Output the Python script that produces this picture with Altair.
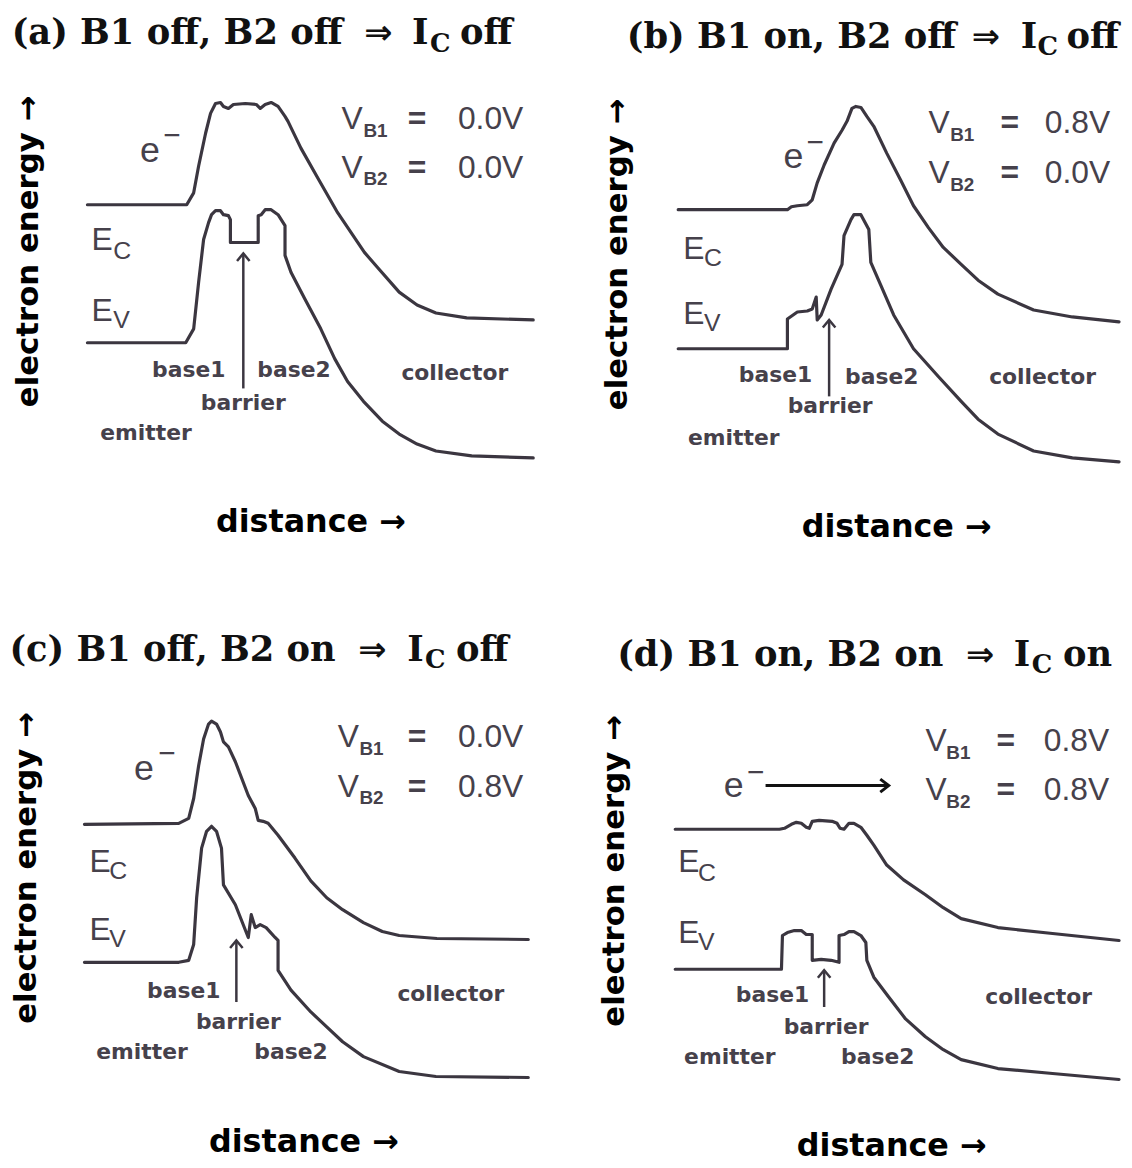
import altair as alt
import pandas as pd

# ---------------- band-edge curves ----------------
# d = distance from the emitter edge, e = electron energy above the emitter valence band
A_EC_D = [0, 92, 100, 107, 112, 119, 124, 129, 134, 137, 142, 147, 159, 170, 174, 179, 185, 192, 199, 202,
          215, 232, 252, 279, 292, 314, 332, 351, 382, 449]
A_EC_E = [139, 139, 139, 151, 178, 211, 231, 241, 242, 238, 236, 240, 241, 240, 236, 240, 242, 238, 228, 223,
          196, 166, 131, 91, 76, 51, 38, 30, 25, 23]
A_EV_D = [0, 99, 107, 112, 117, 122, 125, 129, 134, 137, 142, 144, 144, 172, 172, 175, 179, 185, 192, 199,
          199, 205, 219, 235, 249, 262, 278, 297, 314, 332, 351, 387, 449]
A_EV_E = [0, 0, 14, 61, 104, 121, 129, 133, 133, 129, 128, 124, 101, 101, 128, 129, 134, 134, 129, 118,
          88, 71, 44, 14, -16, -39, -59, -79, -92, -102, -109, -114, -116]

B_EC_D = [0, 110, 114, 120, 130, 135, 140, 147, 157, 165, 170, 175, 179, 184, 190, 197, 210, 224, 237, 252,
          267, 285, 302, 322, 358, 397, 444]
B_EC_E = [140, 140, 143, 144, 145, 150, 167, 185, 207, 220, 229, 242, 244, 243, 234, 224, 197, 170, 144, 122,
          102, 85, 69, 55, 39, 32, 27]
B_EV_D = [0, 110, 110, 120, 130, 135, 139, 140, 144, 154, 165, 167, 174, 177, 184, 192, 194, 204, 217, 237,
          262, 285, 302, 322, 358, 397, 444]
B_EV_E = [0, 0, 30, 37, 38, 40, 52, 29, 34, 60, 85, 114, 130, 135, 135, 120, 87, 64, 34, 0,
          -28, -53, -71, -86, -103, -110, -114]

C_EC_D = [0, 95, 105, 110, 115, 120, 125, 128, 133, 137, 140, 145, 152, 165, 172, 175, 180, 185, 195, 212,
          228, 244, 260, 281, 300, 317, 355, 447]
C_EC_E = [139, 140, 145, 165, 198, 225, 240, 243, 240, 232, 222, 217, 202, 168, 155, 143, 142, 140, 128, 105,
          82, 65, 53, 40, 31, 27, 24, 23]
C_EV_D = [0, 95, 105, 110, 113, 118, 123, 128, 133, 138, 140, 152, 165, 168, 172, 177, 183, 192, 195, 195,
          208, 228, 244, 260, 281, 317, 354, 447]
C_EV_E = [0, 0, 2, 18, 65, 115, 132, 137, 132, 115, 78, 58, 25, 48, 35, 38, 35, 25, 22, -8,
          -28, -50, -65, -80, -95, -110, -115, -116]

D_EC_D = [0, 105, 110, 117, 122, 127, 132, 135, 138, 145, 158, 163, 166, 170, 175, 180, 187, 193, 200, 213,
          230, 252, 270, 288, 325, 380, 447]
D_EC_E = [141, 141, 142, 146, 148, 147, 143, 142, 149, 150, 149, 147, 142, 141, 147, 147, 143, 135, 125, 105,
          90, 75, 62, 51, 42, 36, 29]
D_EV_D = [0, 107, 108, 113, 120, 127, 132, 138, 138, 147, 157, 165, 165, 170, 175, 180, 187, 192, 193, 200,
          215, 232, 252, 270, 288, 325, 380, 447]
D_EV_E = [0, 0, 34, 37, 39, 39, 35, 35, 9, 10, 9, 7, 34, 35, 38, 38, 34, 27, 9, -8,
          -28, -50, -68, -81, -91, -100, -105, -111]

PANEL_KEYS = ["a", "b", "c", "d"]
TITLE_HEAD = ["(a) B1 off, B2 off", "(b) B1 on, B2 off", "(c) B1 off, B2 on", "(d) B1 on, B2 on"]
TITLE_ARROW = "\u21d2"
TITLE_I = "I"
TITLE_SUB = "C"
TITLE_TAIL = ["off", "off", "off", "on"]
VB1_VALUES = ["0.0V", "0.8V", "0.0V", "0.8V"]
VB2_VALUES = ["0.0V", "0.0V", "0.8V", "0.8V"]
REGION_NAMES = ["base1", "base2", "collector", "barrier", "emitter"]
Y_LABEL = "electron  energy  \u2192"
X_LABEL = "distance   \u2192"

CURVES = {
    "a": (A_EC_D, A_EC_E, A_EV_D, A_EV_E),
    "b": (B_EC_D, B_EC_E, B_EV_D, B_EV_E),
    "c": (C_EC_D, C_EC_E, C_EV_D, C_EV_E),
    "d": (D_EC_D, D_EC_E, D_EV_D, D_EV_E),
}

# ---------------- layout: panel frames and annotation anchors (data units) ----------------
PANEL_W = 562
PANEL_H = 580
LAYOUT = {
    "a": dict(x_lo=-80, y_hi=333,
              title=(257, 293, 327, 345, 428, 301, 293), ytitle=(-59, 92), xtitle=(225, -181),
              e_lab=(63, 193), minus=(85, 208),
              v=(256, 278, 332, 439, 225, 213, 176, 165),
              ec=(4, 103, 26, 92), ev=(4, 32, 26, 23),
              regions=[(102, -27), (208, -27), (370, -31), (157, -61), (59, -91)],
              arrow=(157, -46, 90), flow=None),
    "b": dict(x_lo=-113, y_hi=339,
              title=(280, 310, 345, 362, 444, 303, 296), ytitle=(-61, 95), xtitle=(220, -180),
              e_lab=(116, 193), minus=(138, 207),
              v=(252, 274, 334, 435, 227, 215, 177, 165),
              ec=(5, 100, 26, 91), ev=(5, 35, 26, 26),
              regions=[(98, -27), (205, -29), (367, -29), (153, -58), (56, -90)],
              arrow=(152, -48, 29), flow=None),
    "c": dict(x_lo=-77, y_hi=377,
              title=(253, 290, 325, 343, 427, 303, 296), ytitle=(-58, 95), xtitle=(221, -181),
              e_lab=(60, 195), minus=(83, 210),
              v=(255, 277, 335, 442, 227, 215, 177, 165),
              ec=(5, 101, 25, 92), ev=(5, 32, 25, 23),
              regions=[(100, -29), (208, -90), (369, -32), (155, -60), (58, -90)],
              arrow=(153, -40, 22), flow=None),
    "d": dict(x_lo=-110, y_hi=384,
              title=(270, 307, 341, 359, 440, 305, 298), ytitle=(-61, 99), xtitle=(218, -178),
              e_lab=(59, 184), minus=(81, 198),
              v=(252, 273, 333, 437, 230, 218, 180, 168),
              ec=(3, 108, 23, 97), ev=(3, 36, 23, 27),
              regions=[(98, -26), (204, -88), (366, -28), (152, -58), (55, -88)],
              arrow=(150, -38, -1), flow=(91, 215, 185)),
}

SERIF = "DejaVu Serif"
HELV = "Liberation Sans"
ROUND = "DejaVu Sans"
INK = "#3b3640"
LABEL = "#46414b"
UP_HEAD = "M-1,1.2L0,0L1,1.2"
RIGHT_HEAD = "M-1.3,-1L0,0L-1.3,1"


def panel(i, k):
    L = LAYOUT[k]
    xs = alt.Scale(domain=[L["x_lo"], L["x_lo"] + PANEL_W], nice=False, zero=False)
    ys = alt.Scale(domain=[L["y_hi"] - PANEL_H, L["y_hi"]], nice=False, zero=False)

    def X(f="d"):
        return alt.X(f + ":Q", scale=xs, axis=None)

    def Y(f="e"):
        return alt.Y(f + ":Q", scale=ys, axis=None)

    def txt(rows, **style):
        df = pd.DataFrame(rows, columns=["t", "d", "e"])
        return alt.Chart(df).mark_text(**style).encode(x=X(), y=Y(), text="t:N")

    layers = []
    ec_d, ec_e, ev_d, ev_e = CURVES[k]
    cdf = pd.DataFrame({
        "d": ec_d + ev_d,
        "e": ec_e + ev_e,
        "band": ["Ec"] * len(ec_d) + ["Ev"] * len(ev_d),
        "i": list(range(len(ec_d))) + list(range(len(ev_d))),
    })
    layers.append(alt.Chart(cdf).mark_line(color=INK, strokeWidth=3.2, strokeJoin="round",
                                           strokeCap="round").encode(
        x=X(), y=Y(), detail="band:N", order="i:Q"))

    # barrier arrow
    ad, ab, at = L["arrow"]
    adf = pd.DataFrame({"d": [ad], "e": [ab], "e2": [at]})
    layers.append(alt.Chart(adf).mark_rule(color=INK, strokeWidth=2.5).encode(
        x=X(), y=Y(), y2=alt.Y2("e2:Q")))
    layers.append(alt.Chart(adf).mark_point(shape=UP_HEAD, size=160, filled=False, color=INK,
                                            strokeWidth=2.5, opacity=1).encode(x=X(), y=Y("e2")))

    # electron flow arrow (panel d)
    if L["flow"] is not None:
        f0, f1, fe = L["flow"]
        fdf = pd.DataFrame({"d": [f0], "d2": [f1], "e": [fe]})
        layers.append(alt.Chart(fdf).mark_rule(color="#111111", strokeWidth=3).encode(
            x=X(), x2=alt.X2("d2:Q"), y=Y()))
        layers.append(alt.Chart(fdf).mark_point(shape=RIGHT_HEAD, size=170, filled=False,
                                                color="#111111", strokeWidth=3, opacity=1).encode(
            x=X("d2"), y=Y()))

    # title pieces
    hr, ac, il, cl, tr, tb, tsb = L["title"]
    title_style = dict(font=SERIF, fontWeight="bold", color="#111111", baseline="alphabetic")
    layers.append(txt([(TITLE_HEAD[i], hr, tb)], align="right", fontSize=35.5, **title_style))
    layers.append(txt([(TITLE_ARROW, ac, tb)], align="center", baseline="alphabetic",
                      font=ROUND, fontWeight="bold", fontSize=34, color="#111111"))
    layers.append(txt([(TITLE_I, il, tb)], align="left", fontSize=35.5, **title_style))
    layers.append(txt([(TITLE_SUB, cl, tsb)], align="left", fontSize=26, **title_style))
    layers.append(txt([(TITLE_TAIL[i], tr, tb)], align="right", fontSize=35.5, **title_style))

    # axis titles
    axis_style = dict(font=ROUND, fontWeight="bold", color="#000000", align="center",
                      baseline="middle")
    layers.append(txt([(Y_LABEL, *L["ytitle"])], angle=270, fontSize=31, **axis_style))
    layers.append(txt([(X_LABEL, *L["xtitle"])], fontSize=32, **axis_style))

    # e- label
    layers.append(txt([("e", *L["e_lab"])], font=HELV, fontSize=36, color=LABEL,
                      align="center", baseline="middle"))
    layers.append(txt([("\u2212", *L["minus"])], font=HELV, fontSize=30, color=LABEL,
                      align="center", baseline="middle"))

    # bias voltages
    vl, bl, eqc, valr, e1, s1, e2, s2 = L["v"]
    helv = dict(font=HELV, fontSize=32, color=LABEL, baseline="middle")
    layers.append(txt([("V", vl, e1), ("V", vl, e2)], align="left", **helv))
    layers.append(txt([("B1", bl, s1), ("B2", bl, s2)], align="left", font=HELV, fontSize=19,
                      fontWeight="bold", color=LABEL, baseline="middle"))
    layers.append(txt([("=", eqc, e1), ("=", eqc, e2)], align="center", font=HELV, fontSize=32,
                      fontWeight="bold", color=LABEL, baseline="middle"))
    layers.append(txt([(VB1_VALUES[i], valr, e1), (VB2_VALUES[i], valr, e2)], align="right", **helv))

    # band labels
    ecx, ecy, ecsx, ecsy = L["ec"]
    evx, evy, evsx, evsy = L["ev"]
    layers.append(txt([("E", ecx, ecy), ("E", evx, evy)], align="left", **helv))
    layers.append(txt([("C", ecsx, ecsy), ("V", evsx, evsy)], align="left", font=HELV,
                      fontSize=25, color=LABEL, baseline="middle"))

    # region labels
    rows = [(n, p[0], p[1]) for n, p in zip(REGION_NAMES, L["regions"])]
    layers.append(txt(rows, align="center", baseline="middle", font=ROUND, fontSize=22,
                      fontWeight="bold", color=LABEL))

    return alt.layer(*layers).properties(width=PANEL_W, height=PANEL_H)


panels = [panel(i, k) for i, k in enumerate(PANEL_KEYS)]
chart = alt.concat(*panels, columns=2, spacing=0, bounds="flush").properties(
    padding=0, background="white"
).configure_view(stroke=None)

chart.save("out.html", embed_options={"renderer": "svg", "actions": False})
